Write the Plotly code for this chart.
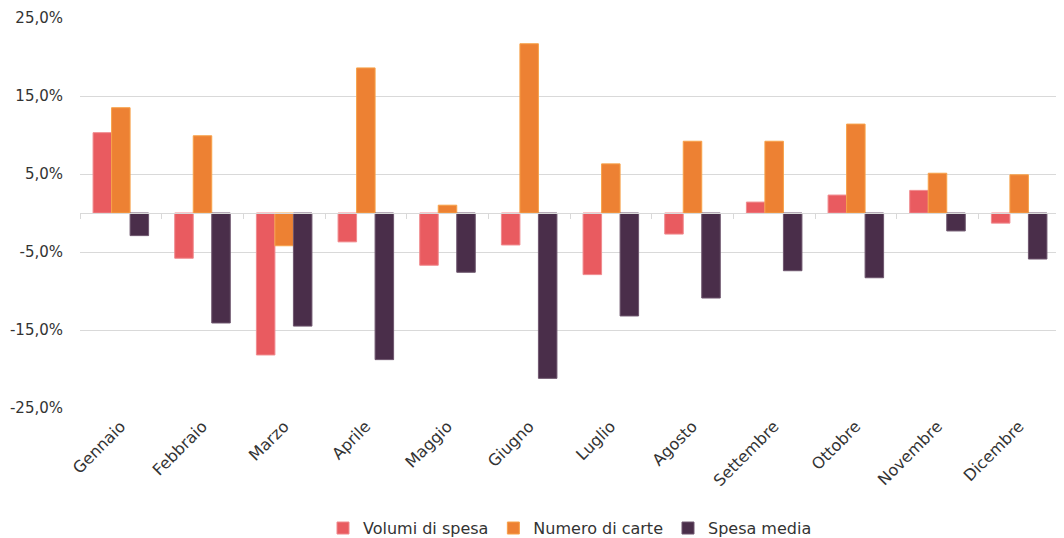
import plotly.graph_objects as go

months = ["Gennaio", "Febbraio", "Marzo", "Aprile", "Maggio", "Giugno",
          "Luglio", "Agosto", "Settembre", "Ottobre", "Novembre", "Dicembre"]
volumi_spesa = [10.3, -5.8, -18.2, -3.7, -6.7, -4.1, -7.9, -2.7, 1.4, 2.3, 2.9, -1.3]
numero_carte = [13.5, 9.9, -4.2, 18.6, 1.0, 21.7, 6.3, 9.2, 9.2, 11.4, 5.1, 4.9]
spesa_media = [-2.9, -14.1, -14.5, -18.8, -7.6, -21.2, -13.2, -10.9, -7.4, -8.3, -2.3, -5.9]
y_ticks = [-25, -15, -5, 5, 15, 25]
y_tick_labels = ["-25,0%", "-15,0%", "-5,0%", "5,0%", "15,0%", "25,0%"]

FONT = "DejaVu Sans"
fig = go.Figure()
series = [
    ("Volumi di spesa", volumi_spesa, "#E95B60", "#F08A8E"),
    ("Numero di carte", numero_carte, "#ED8133", "#F7A24A"),
    ("Spesa media", spesa_media, "#4A2E4A", "#6E566E"),
]
for name, vals, col, lcol in series:
    fig.add_trace(go.Bar(x=months, y=vals, name=name,
                         marker=dict(color=col, line=dict(color=lcol, width=1))))

# invisible trace to host the zero-line axis with boundary ticks
fig.add_trace(go.Scatter(x=[-0.5, 11.5], y=[0, 0], xaxis="x2", mode="lines",
                         line=dict(width=0), showlegend=False, hoverinfo="skip"))

fig.update_layout(
    width=1056, height=530,
    margin=dict(l=72, r=4, t=10, b=130, autoexpand=False),
    paper_bgcolor="white", plot_bgcolor="white",
    barmode="group", bargap=0.32, bargroupgap=0,
    font=dict(family=FONT, size=15, color="#333333"),
    xaxis=dict(showline=False, ticks="", tickangle=-45, showgrid=False,
               automargin=False, ticklabelstandoff=5,
               tickfont=dict(size=16, color="#333333")),
    xaxis2=dict(overlaying="x", anchor="free", position=0.5, range=[-0.5, 11.5],
                tickvals=[i - 0.5 for i in range(len(months) + 1)],
                showticklabels=False, ticks="outside", ticklen=5,
                tickcolor="#d9d9d9", showline=True, linecolor="#d9d9d9",
                linewidth=1, showgrid=False, zeroline=False),
    yaxis=dict(range=[-25, 25], tickvals=y_ticks, ticktext=y_tick_labels,
               showgrid=True, gridcolor="#d9d9d9", gridwidth=1, zeroline=False,
               showline=False, ticks="", ticklabelstandoff=16, automargin=False,
               tickfont=dict(size=15, color="#333333")),
    legend=dict(orientation="h", x=0.5, xanchor="center", y=-0.308, yanchor="middle",
                font=dict(size=16, color="#333333"), itemwidth=30,
                traceorder="normal"),
)

fig.write_html("out.html")
